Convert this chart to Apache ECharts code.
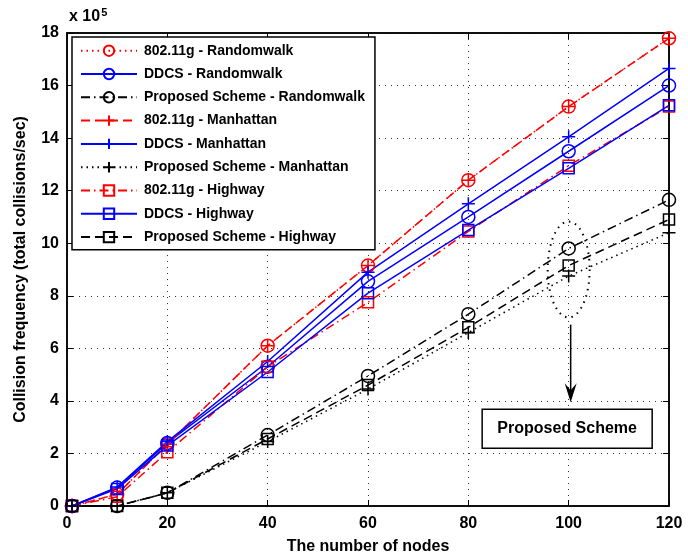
<!DOCTYPE html>
<html>
<head>
<meta charset="utf-8">
<script src="https://cdn.jsdelivr.net/npm/echarts@6/dist/echarts.min.js"></script>
<style>
    body { margin: 0; background: #fff; }
    #main { width: 688px; height: 560px; }
</style>
</head>
<body>
<div id="main"></div>
<script>
// data (values in units of 10^5)
var nodes = [1, 10, 20, 40, 60, 80, 100, 120];
var yTicks = [0, 2, 4, 6, 8, 10, 12, 14, 16, 18];

var wifiRandom = [0, 0.45, 2.35, 6.1, 9.15, 12.4, 15.2, 17.8];
var ddcsRandom = [0, 0.7, 2.4, 5.3, 8.55, 11.0, 13.5, 16.0];
var propRandom = [0, 0, 0.5, 2.7, 4.95, 7.3, 9.8, 11.65];
var wifiManhattan = [0, 0.45, 2.35, 6.1, 9.15, 12.4, 15.2, 17.8];
var ddcsManhattan = [0, 0.72, 2.45, 5.5, 8.9, 11.5, 14.05, 16.65];
var propManhattan = [0, 0, 0.5, 2.45, 4.45, 6.6, 8.75, 10.4];
var wifiHighway = [0, 0.35, 2.05, 5.3, 7.75, 10.45, 12.95, 15.2];
var ddcsHighway = [0, 0.65, 2.3, 5.1, 8.1, 10.5, 12.85, 15.25];
var propHighway = [0, 0, 0.5, 2.55, 4.6, 6.8, 9.15, 10.9];

var names = [
    '802.11g - Randomwalk', 'DDCS - Randomwalk', 'Proposed Scheme - Randomwalk',
    '802.11g - Manhattan', 'DDCS - Manhattan', 'Proposed Scheme - Manhattan',
    '802.11g - Highway', 'DDCS - Highway', 'Proposed Scheme - Highway'
];

var FONT = '"Liberation Sans", Arial, sans-serif';
var PLUS = 'path://M6,0 L6,12 M0,6 L12,6';
var DOT = [1.5, 4];
var DASH = [9, 5];
var DASHDOT = [9, 4, 1.5, 4];

function pairs(vals) {
    var out = [];
    for (let i = 0; i < nodes.length; i++) {
        out.push([nodes[i], vals[i]]);
    }
    return out;
}

function mk(name, vals, color, dash, symbol, size) {
    return {
        name: name,
        type: 'line',
        data: pairs(vals),
        symbol: symbol,
        symbolSize: size,
        showAllSymbol: true,
        lineStyle: { color: color, width: 1.5, type: dash },
        itemStyle: { color: 'none', borderColor: color, borderWidth: 1.5 },
        emphasis: { disabled: true },
        animation: false,
        z: 3
    };
}

var myChart = echarts.init(document.getElementById('main'));

var series = [
    mk(names[0], wifiRandom, '#ff0000', DOT, 'circle', 13),
    mk(names[1], ddcsRandom, '#0000ff', 'solid', 'circle', 13),
    mk(names[2], propRandom, '#000000', DASHDOT, 'circle', 13),
    mk(names[3], wifiManhattan, '#ff0000', DASH, PLUS, 13),
    mk(names[4], ddcsManhattan, '#0000ff', 'solid', PLUS, 13),
    mk(names[5], propManhattan, '#000000', DOT, PLUS, 13),
    mk(names[6], wifiHighway, '#ff0000', DASHDOT, 'rect', 11),
    mk(names[7], ddcsHighway, '#0000ff', 'solid', 'rect', 11),
    mk(names[8], propHighway, '#000000', DASH, 'rect', 11)
];

// annotation: dotted ellipse around x=100, arrow down to a labelled box
series.push({
    type: 'custom',
    silent: true,
    animation: false,
    z: 5,
    data: [[100, 9.0]],
    renderItem: function (params, api) {
        var c = api.coord([api.value(0), api.value(1)]);
        var rx = 21, ry = 48, pts = [];
        for (let k = 0; k <= 64; k++) {
            var a = k / 64 * Math.PI * 2;
            pts.push([c[0] + rx * Math.cos(a), c[1] + ry * Math.sin(a)]);
        }
        var a0 = api.coord([100, 6.9]);
        var a1 = api.coord([100, 3.95]);
        var b = api.coord([99.7, 2.94]);
        return {
            type: 'group',
            children: [
                { type: 'polyline', shape: { points: pts },
                  style: { stroke: '#000', lineWidth: 2, lineDash: [1.5, 5], fill: null } },
                { type: 'line', shape: { x1: a0[0] + 2, y1: a0[1], x2: a1[0] + 2, y2: a1[1] - 6 },
                  style: { stroke: '#000', lineWidth: 1.5 } },
                { type: 'polygon',
                  shape: { points: [[a1[0] + 2, a1[1]], [a1[0] - 4, a1[1] - 19], [a1[0] + 2, a1[1] - 12], [a1[0] + 8, a1[1] - 19]] },
                  style: { fill: '#000' } },
                { type: 'rect', shape: { x: b[0] - 85, y: b[1] - 19.5, width: 170, height: 39 },
                  style: { fill: '#fff', stroke: '#000', lineWidth: 1.5 } },
                { type: 'text',
                  style: { x: b[0], y: b[1], text: 'Proposed Scheme', align: 'center', verticalAlign: 'middle',
                           font: 'bold 16px ' + FONT, fill: '#000' } }
            ]
        };
    }
});

var axisText = { color: '#000', fontFamily: FONT, fontWeight: 'bold', fontSize: 16 };
var grid = { show: true, left: 67, right: 19, top: 33, bottom: 53, borderColor: '#000', borderWidth: 1.5, backgroundColor: '#fff' };

var option = {
    backgroundColor: '#fff',
    textStyle: { fontFamily: FONT },
    title: {
        text: 'x 10{s|5}',
        left: 64,
        top: 2,
        textStyle: {
            fontSize: 16, fontWeight: 'bold', color: '#000', fontFamily: FONT,
            rich: { s: { fontSize: 11, fontWeight: 'bold', color: '#000', fontFamily: FONT, verticalAlign: 'top', padding: [0, 0, 8, 1] } }
        }
    },
    grid: grid,
    legend: {
        data: names,
        orient: 'vertical',
        left: 72,
        top: 37,
        backgroundColor: '#fff',
        borderColor: '#000',
        borderWidth: 1.5,
        padding: [6, 10, 5, 8],
        itemGap: 7.9,
        itemWidth: 56,
        itemHeight: 13,
        selectedMode: false,
        textStyle: { fontFamily: FONT, fontWeight: 'bold', fontSize: 14, color: '#000', padding: [0, 0, 0, 2] },
        z: 10
    },
    xAxis: [{
        type: 'value',
        min: 0, max: 120, interval: 20,
        name: 'The number of nodes',
        nameLocation: 'middle',
        nameGap: 33,
        nameTextStyle: axisText,
        axisLine: { show: true, onZero: false, lineStyle: { color: '#000', width: 1.5 } },
        axisTick: { show: true, inside: true, length: 6, lineStyle: { color: '#000' } },
        axisLabel: { margin: 10, color: '#000', fontFamily: FONT, fontWeight: 'bold', fontSize: 16 },
        splitLine: { show: true, lineStyle: { color: '#333', type: [1, 5] } }
    }, {
        type: 'value', position: 'top',
        min: 0, max: 120, interval: 20,
        axisLine: { show: true, onZero: false, lineStyle: { color: '#000', width: 1.5 } },
        axisTick: { show: true, inside: true, length: 6, lineStyle: { color: '#000' } },
        axisLabel: { show: false },
        splitLine: { show: false }
    }],
    yAxis: [{
        type: 'value',
        min: 0, max: 18, interval: 2,
        name: 'Collision frequency (total collisions/sec)',
        nameLocation: 'middle',
        nameGap: 38,
        nameTextStyle: axisText,
        axisLine: { show: true, onZero: false, lineStyle: { color: '#000', width: 1.5 } },
        axisTick: { show: true, inside: true, length: 6, lineStyle: { color: '#000' } },
        axisLabel: {
            margin: 8, color: '#000', fontFamily: FONT, fontWeight: 'bold', fontSize: 16,
            formatter: function (v) { return yTicks.indexOf(v) >= 0 ? String(v) : ''; }
        },
        splitLine: { show: true, lineStyle: { color: '#333', type: [1, 5] } }
    }, {
        type: 'value', position: 'right',
        min: 0, max: 18, interval: 2,
        axisLine: { show: true, onZero: false, lineStyle: { color: '#000', width: 1.5 } },
        axisTick: { show: true, inside: true, length: 6, lineStyle: { color: '#000' } },
        axisLabel: { show: false },
        splitLine: { show: false }
    }],
    series: series
};

option && myChart.setOption(option);
</script>
</body>
</html>
